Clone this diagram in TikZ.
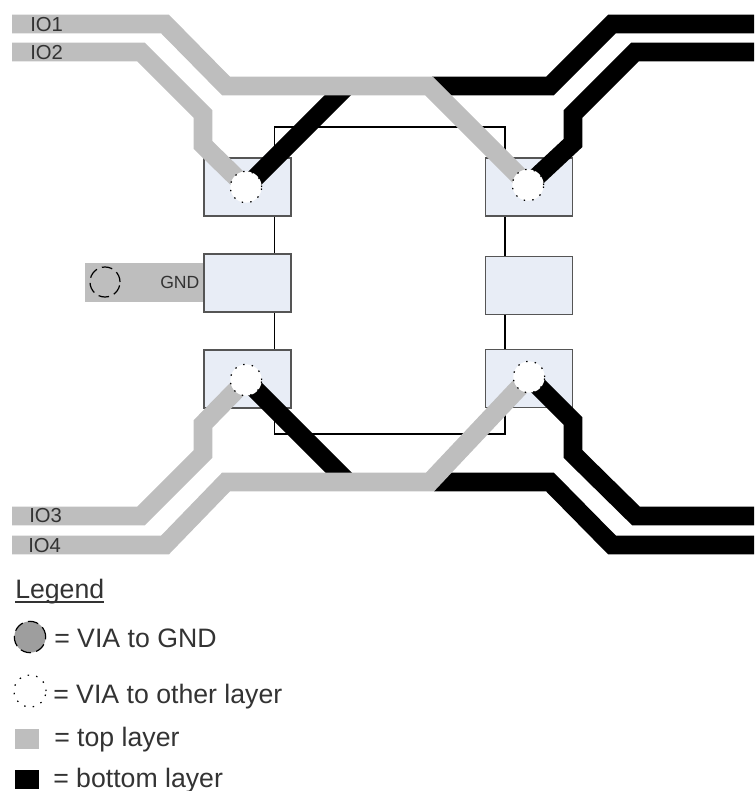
\documentclass[tikz,border=0pt]{standalone}
\usepackage{fontspec}
\setmainfont{Liberation Sans}
\definecolor{toplayer}{HTML}{BEBEBE}
\definecolor{padfill}{HTML}{E8EDF6}
\definecolor{padline}{HTML}{555555}
\definecolor{labelink}{HTML}{333333}
\tikzset{
  x=0.75pt,y=-0.75pt,
  chipbody/.style={draw=black,line width=1pt,inner sep=0pt,minimum width=173pt,minimum height=230.25pt},
  padbox/.style={draw=padline,fill=padfill,line width=1.2pt,inner sep=0pt,minimum width=65.25pt,minimum height=43.5pt},
  toptrace/.style={draw=toplayer,line width=14pt,line cap=butt,line join=miter},
  bottomtrace/.style={draw=black,line width=14pt,line cap=butt,line join=miter},
  viaother/.style={circle,draw=black,fill=white,line width=0.9pt,dash pattern=on 1.1pt off 5.4pt,inner sep=0pt,minimum size=23.5pt},
  viagnd/.style={circle,draw=black,line width=0.9pt,dash pattern=on 8pt off 4pt,inner sep=0pt,minimum size=23pt},
  netlabel/.style={anchor=base west,inner sep=0pt,text=labelink,font=\fontsize{15.2pt}{17pt}\selectfont},
  gndlabel/.style={anchor=base west,inner sep=0pt,text=labelink,font=\fontsize{13.2pt}{15pt}\selectfont},
  legendtext/.style={anchor=base west,inner sep=0pt,text=labelink,font=\fontsize{20pt}{22pt}\selectfont},
  swatch/.style={inner sep=0pt,minimum width=18pt,minimum height=14.6pt},
}
\begin{document}
\begin{tikzpicture}
\useasboundingbox (0,0) rectangle (754,791);
% chip body and connecting pads
\node[chipbody] (body) at (389.5,280.5) {};
\node[padbox] (tl) at (247.5,187) {};
\node[padbox] (ml) at (247.5,283) {};
\node[padbox] (bl) at (247.5,379) {};
\node[padbox] (tr) at (529,187) {};
\node[padbox] (mr) at (529,285.5) {};
\node[padbox] (br) at (529,378.5) {};
% GND strip
\fill[toplayer] (85,263) rectangle (204,302);
\node[padbox] at (ml) {};
\node[viagnd,minimum size=22.5pt] (gndvia) at (105,282) {};
\node[gndlabel] (gndtext) at (160,288) {GND};
% via anchor points
\coordinate (vtl) at (246,187);
\coordinate (vtr) at (528,185);
\coordinate (vbl) at (246,380);
\coordinate (vbr) at (529,377);
% bottom layer traces
\draw[bottomtrace] (vtl) -- (347,86);
\draw[bottomtrace] (vbl) -- (348,482);
\draw[bottomtrace] (432,86) -- (550,86) -- (612,24) -- (754,24);
\draw[bottomtrace] (vtr) -- (573,143) -- (573,114) -- (635,52) -- (754,52);
\draw[bottomtrace] (434,482) -- (550,482) -- (612,545) -- (754,545);
\draw[bottomtrace] (vbr) -- (573,421) -- (573,454) -- (636,516) -- (754,516);
% top layer traces
\draw[toptrace] (12,24) -- (165,24) -- (226,86) -- (429,86) -- (vtr);
\draw[toptrace] (12,52) -- (141,52) -- (203,114) -- (203,145) -- (vtl);
\draw[toptrace] (12,516) -- (141,516) -- (203,454) -- (203,424) -- (vbl);
\draw[toptrace] (12,545) -- (165,545) -- (226,482) -- (430,482) -- (vbr);
% vias
\node[viaother] (viatl) at (vtl) {};
\node[viaother] (viatr) at (vtr) {};
\node[viaother] (viabl) at (vbl) {};
\node[viaother] (viabr) at (vbr) {};
% net labels
\node[netlabel] (io1) at (30,32) {IO1};
\node[netlabel] (io2) at (30,60) {IO2};
\node[netlabel] (io3) at (29,522) {IO3};
\node[netlabel] (io4) at (28,552) {IO4};
% legend
\node[legendtext] (legend) at (15,598) {Legend};
\draw[labelink,line width=1pt] (15,602) -- (104,602);
\node[viagnd,fill=black!38,minimum size=23.5pt] (lgnd) at (30,637) {};
\node[legendtext] (t1) at (54,647) {= VIA to GND};
\node[viaother,minimum size=24pt] (lvia) at (30,691) {};
\node[legendtext] (t2) at (53,703) {= VIA to other layer};
\node[swatch,fill=toplayer] (ltop) at (27,739) {};
\node[legendtext] (t3) at (54,746) {= top layer};
\node[swatch,fill=black] (lbot) at (27,779.5) {};
\node[legendtext] (t4) at (53,787) {= bottom layer};
\end{tikzpicture}
\end{document}
